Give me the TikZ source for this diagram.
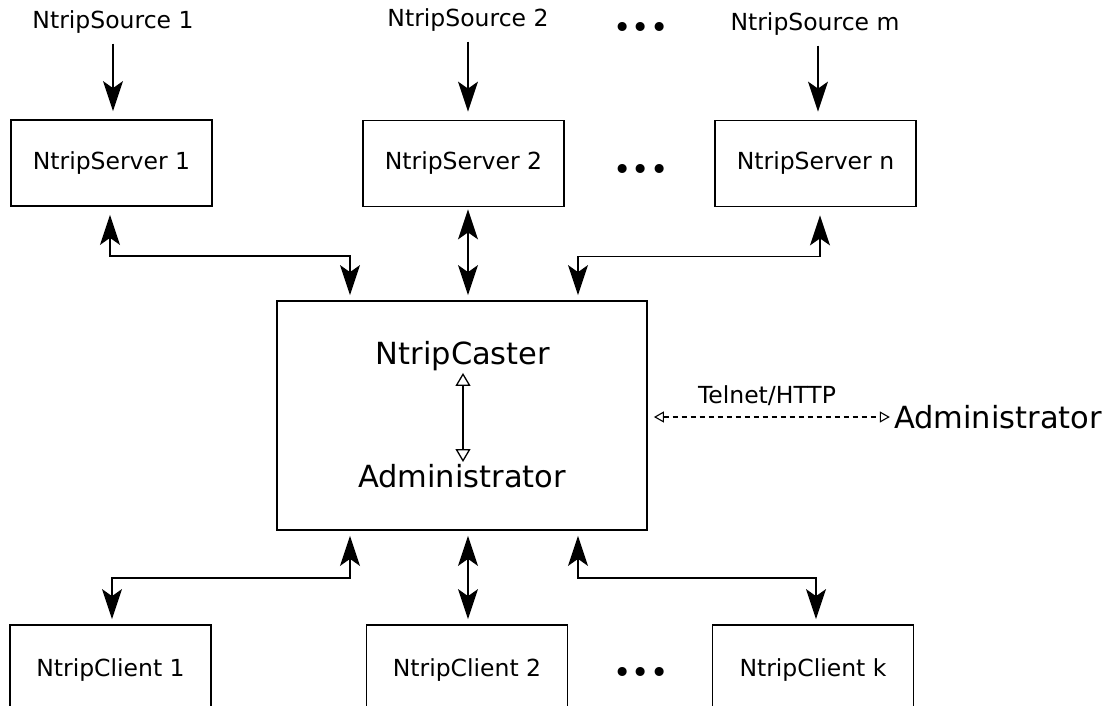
\documentclass[tikz,border=0pt]{standalone}
\usepackage{fontspec}
\setmainfont{DejaVu Sans}
\usetikzlibrary{arrows.meta,calc}
\tikzset{
  box/.style={draw, line width=1.8pt, minimum width=201pt, minimum height=86pt, inner sep=0pt, font=\fontsize{23.5}{28}\selectfont},
  lbl/.style={inner sep=0pt, font=\fontsize{23.5}{28}\selectfont},
  big/.style={inner sep=0pt, font=\fontsize{30.5}{36}\selectfont},
  conn/.style={line width=1.4pt, -{Stealth[length=30pt,width=20pt,inset=7pt]}},
  biconn/.style={line width=1.4pt, {Stealth[length=30pt,width=20pt,inset=7pt]}-{Stealth[length=30pt,width=20pt,inset=7pt]}},
  inner/.style={line width=1.3pt, {Triangle[open,length=13pt,width=15pt]}-{Triangle[open,length=13pt,width=15pt]}},
  telnet/.style={line width=1.1pt, dash pattern=on 5pt off 4pt, {Triangle[open,length=10pt,width=11pt]}-{Triangle[open,length=10pt,width=11pt]}},
  dots/.style={inner sep=0pt, font=\fontsize{31}{36}\selectfont}
}
\begin{document}
\begin{tikzpicture}[x=1pt,y=-1pt]
\clip (0,0) rectangle (1109,705);
% sources
\node[lbl] (src1) at (113,22) {NtripSource 1};
\node[lbl] (src2) at (468,20) {NtripSource 2};
\node[lbl] (srcm) at (815,24) {NtripSource m};
\node[dots] (d1) at (641,30) {•••};
% servers
\node[box] (s1) at (111.5,163) {NtripServer 1};
\node[box] (s2) at (463.5,163.5) {NtripServer 2};
\node[box] (sn) at (815.5,163.5) {NtripServer n};
\node[dots] (d2) at (641,172) {•••};
% caster
\node[box, minimum width=370pt, minimum height=229pt] (caster) at (462,415.5) {};
\node[big] (nc) at (463,356) {NtripCaster};
\node[big] (ad) at (462,476) {Administrator};
\draw[inner, shorten <=2pt, shorten >=2pt] (nc.south) -- (ad.north -| nc.south);
% external admin
\node[big] (ext) at (998,417) {Administrator};
\node[lbl] (tel) at (767,396) {Telnet/HTTP};
\draw[telnet, shorten <=6pt, shorten >=4pt] (caster.east |- ext.west) -- (ext.west);
% clients
\node[box, minimum height=90pt] (c1) at (110.5,670) {NtripClient 1};
\node[box, minimum height=90pt] (c2) at (467,670) {NtripClient 2};
\node[box, minimum height=90pt] (ck) at (813,670) {NtripClient k};
\node[dots] (d3) at (641,675) {•••};
% source arrows
\draw[conn, shorten <=10pt, shorten >=8pt] (src1.south) -- (s1.north -| src1.south);
\draw[conn, shorten <=10pt, shorten >=8pt] ([xshift=4.5pt]s2.north |- src2.south) -- ([xshift=4.5pt]s2.north);
\draw[conn, shorten <=10pt, shorten >=8pt] ([xshift=2.5pt]sn.north |- srcm.south) -- ([xshift=2.5pt]sn.north);
% server <-> caster
\draw[biconn, shorten <=8pt, shorten >=5pt] ([xshift=-1.5pt]s1.south) -- ++(0,49) -| ([xshift=-112pt]caster.north);
\draw[biconn, shorten <=2pt, shorten >=5pt] ([xshift=4.5pt]s2.south) -- ([xshift=6pt]caster.north);
\draw[biconn, shorten <=8pt, shorten >=5pt] ([xshift=4.5pt]sn.south) -- ++(0,49) -| ([xshift=116pt]caster.north);
% caster <-> clients
\draw[biconn, shorten <=5pt, shorten >=5pt] ([xshift=-112pt]caster.south) -- ++(0,47) -| ([xshift=1.5pt]c1.north);
\draw[biconn, shorten <=5pt, shorten >=5pt] ([xshift=6pt]caster.south) -- ([xshift=1pt]c2.north);
\draw[biconn, shorten <=5pt, shorten >=5pt] ([xshift=116pt]caster.south) -- ++(0,47) -| ([xshift=3pt]ck.north);
\end{tikzpicture}
\end{document}
